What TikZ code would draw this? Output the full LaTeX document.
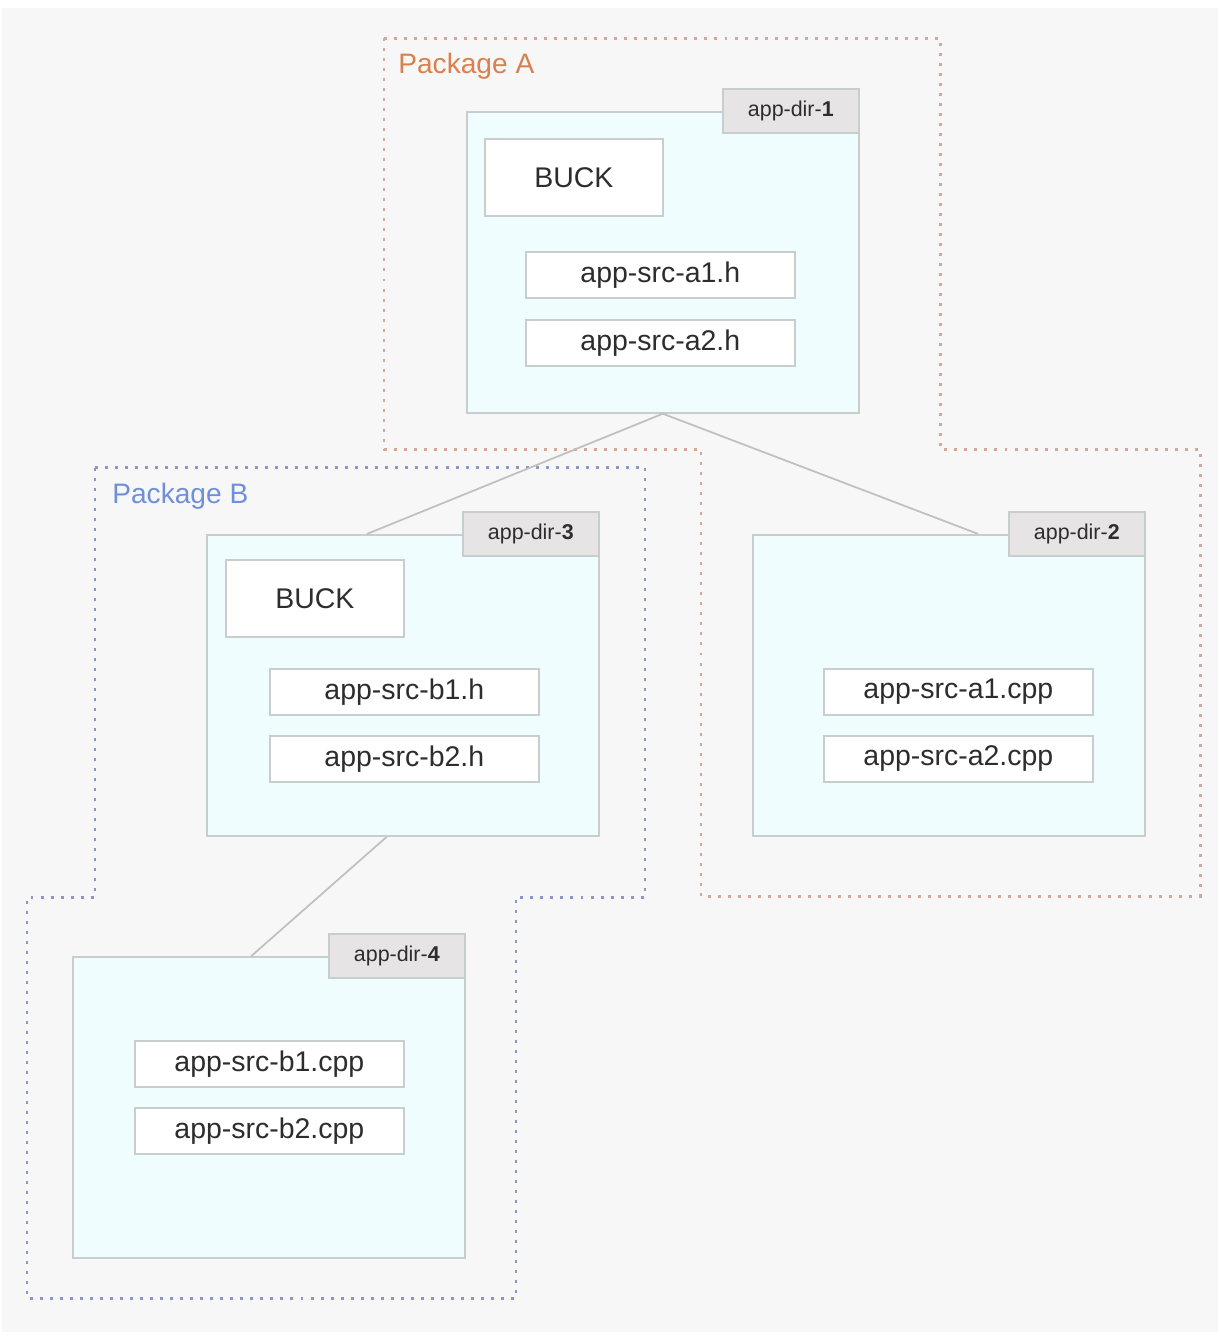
\documentclass[tikz,border=0pt]{standalone}
\usepackage{fontspec}
\setmainfont{Liberation Sans}
\usetikzlibrary{positioning}
\definecolor{pagegray}{RGB}{247,247,247}
\definecolor{dircyan}{RGB}{240,253,254}
\definecolor{boxline}{RGB}{200,206,206}
\definecolor{tabgray}{RGB}{230,228,228}
\definecolor{pkgorange}{RGB}{217,129,78}
\definecolor{pkgblue}{RGB}{111,144,216}
\definecolor{dotorange}{RGB}{212,168,150}
\definecolor{dotblue}{RGB}{140,150,200}
\definecolor{linkgray}{RGB}{192,192,192}
\definecolor{textgray}{RGB}{45,45,45}

\tikzset{
  dirbox/.style={draw=boxline, line width=1pt, fill=dircyan, anchor=north west,
    minimum width=7.84cm, minimum height=6.02cm, inner sep=0pt},
  tabbox/.style={draw=boxline, line width=1pt, fill=tabgray, anchor=north east,
    minimum width=2.72cm, minimum height=0.88cm, inner sep=0pt,
    font=\fontsize{12.2}{14}\selectfont, text=textgray},
  buckbox/.style={draw=boxline, line width=1pt, fill=white, anchor=north west,
    minimum width=3.56cm, minimum height=1.54cm, inner sep=0pt,
    font=\fontsize{16.2}{19}\selectfont, text=textgray},
  filebox/.style={draw=boxline, line width=1pt, fill=white, anchor=north west,
    minimum width=5.38cm, minimum height=0.92cm, inner sep=0pt,
    font=\fontsize{16.2}{19}\selectfont, text=textgray},
  pkglabel/.style={anchor=base west, inner sep=0pt, font=\fontsize{16}{19}\selectfont},
  pkgline/.style={line width=1.7pt, dash pattern=on 1.7pt off 4pt},
  link/.style={draw=linkgray, line width=1pt}
}

\begin{document}
\begin{tikzpicture}[x=0.02cm, y=-0.02cm]
  % Page
  \useasboundingbox (0,0) rectangle (1220,1340);
  \fill[white] (0,0) rectangle (1220,1340);
  \fill[pagegray] (2,8) rectangle (1218,1332);
  % Package outlines
  \draw[pkgline, dotorange] (384,38) -- (940,38) -- (940,449) -- (1200,449)
    -- (1200,896) -- (701,896) -- (701,449) -- (384,449) -- cycle;
  \draw[pkgline, dotblue] (95,467) -- (645,467) -- (645,897) -- (516,897)
    -- (516,1298) -- (27,1298) -- (27,897) -- (95,897) -- cycle;
  \node[pkglabel, pkgorange] (pa) at (398,73) {Package A};
  \node[pkglabel, pkgblue] (pb) at (112,503) {Package B};
  % Directories
  \node[dirbox] (d1) at (466,111) {};
  \node[dirbox] (d3) at (206,534) {};
  \node[dirbox] (d2) at (752,534) {};
  \node[dirbox] (d4) at (72,956) {};
  % Links between directories
  \draw[link] (d1.south) -- ([xshift=-0.72cm]d3.north);
  \draw[link] (d1.south) -- ([xshift=0.59cm]d2.north);
  \draw[link] ([xshift=-0.32cm]d3.south) -- ([xshift=-0.35cm]d4.north);
  % Tabs
  \node[tabbox] (t1) at ([yshift=0.46cm]d1.north east) {app-dir-\textbf{1}};
  \node[tabbox] (t3) at ([yshift=0.46cm]d3.north east) {app-dir-\textbf{3}};
  \node[tabbox] (t2) at ([yshift=0.46cm]d2.north east) {app-dir-\textbf{2}};
  \node[tabbox] (t4) at ([yshift=0.46cm]d4.north east) {app-dir-\textbf{4}};
  % Package A contents
  \node[buckbox] (bucka) at (484,138) {BUCK};
  \node[filebox] (ha1) at (525,251) {app-src-a1.h};
  \node[filebox] (ha2) at (525,319) {app-src-a2.h};
  \node[filebox] (ca1) at (823,668) {app-src-a1.cpp};
  \node[filebox] (ca2) at (823,735) {app-src-a2.cpp};
  % Package B contents
  \node[buckbox] (buckb) at (225,559) {BUCK};
  \node[filebox] (hb1) at (269,668) {app-src-b1.h};
  \node[filebox] (hb2) at (269,735) {app-src-b2.h};
  \node[filebox] (cb1) at (134,1040) {app-src-b1.cpp};
  \node[filebox] (cb2) at (134,1107) {app-src-b2.cpp};
\end{tikzpicture}
\end{document}
